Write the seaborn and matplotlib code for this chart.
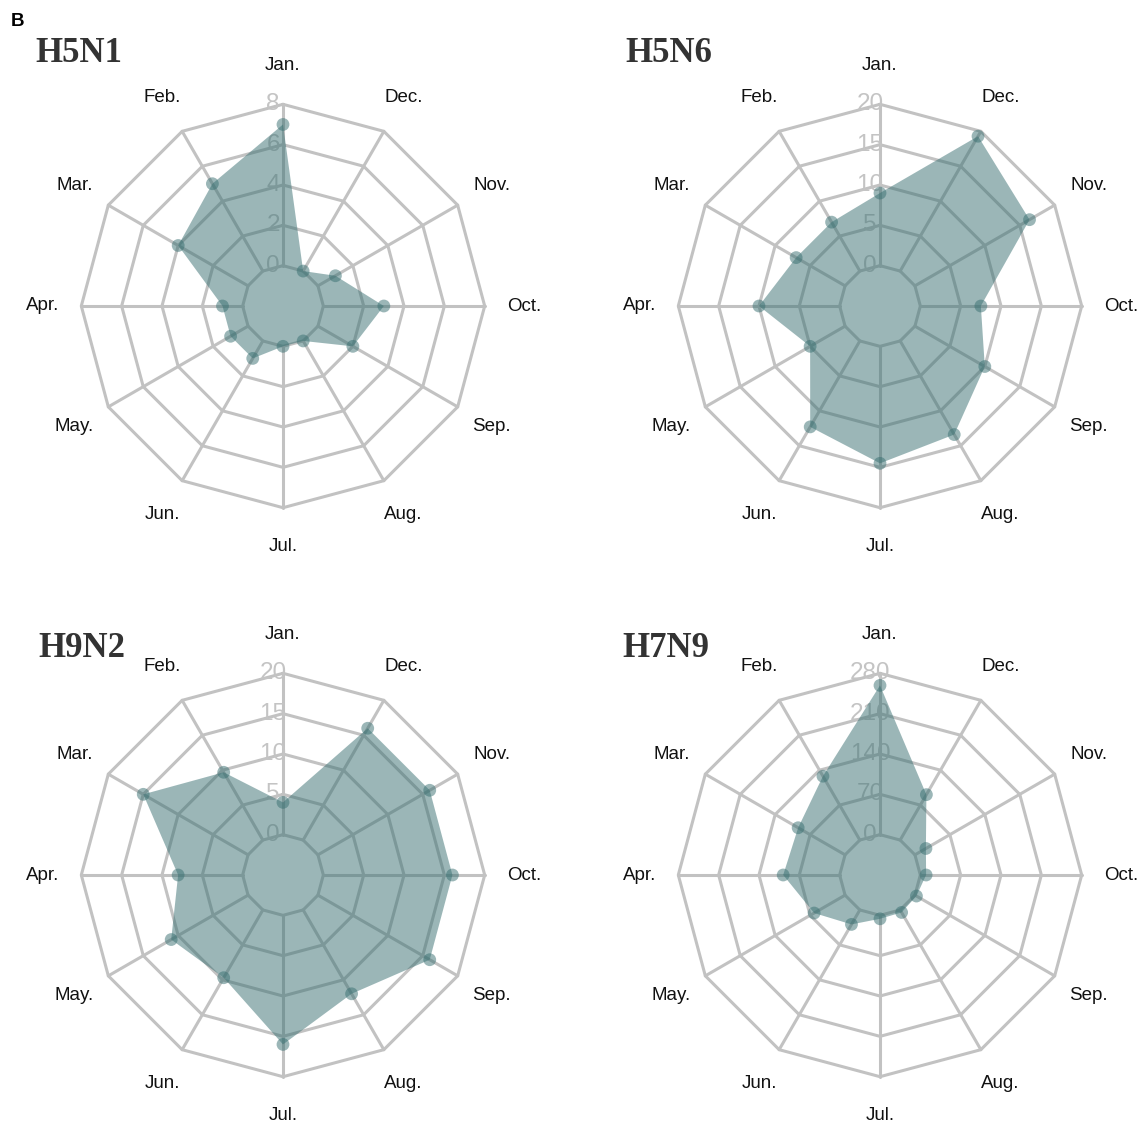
import numpy as np
import pandas as pd
import matplotlib
matplotlib.use("Agg")
import matplotlib.pyplot as plt
import seaborn as sns
from matplotlib.transforms import offset_copy

# ---------------- data ----------------
months = ["Jan.", "Feb.", "Mar.", "Apr.", "May.", "Jun.",
          "Jul.", "Aug.", "Sep.", "Oct.", "Nov.", "Dec."]

h5n1 = [7, 5, 4, 1, 1, 1, 0, 0, 2, 3, 1, 0]
h5n6 = [9, 7, 7, 10, 5, 12.3, 14.5, 13.4, 10, 7.5, 16.4, 19.3]
h9n2 = [4, 9.7, 15, 8, 11, 9.7, 16, 12, 16, 16, 16, 16]
h7n9 = [259, 128, 94, 98, 62, 29, 6, 5, 3, 10, 22, 91]

ticks_h5n1 = [0, 2, 4, 6, 8]
ticks_h5n6 = [0, 5, 10, 15, 20]
ticks_h9n2 = [0, 5, 10, 15, 20]
ticks_h7n9 = [0, 70, 140, 210, 280]

titles = ["H5N1", "H5N6", "H9N2", "H7N9"]
series = [h5n1, h5n6, h9n2, h7n9]
tick_sets = [ticks_h5n1, ticks_h5n6, ticks_h9n2, ticks_h7n9]

# ---------------- style ----------------
sns.set_theme(style="white")
plt.rcParams["font.family"] = ["Liberation Sans", "DejaVu Sans"]

W, H = 1143, 1126
fig = plt.figure(figsize=(W / 100, H / 100), dpi=100)
fig.patch.set_facecolor("white")

main_col = "#386F71"
grid_col = "#c2c2c2"
tick_col = "#c4c4c4"

R = 201.7  # outer radius in px
centers = [(283, 306), (880, 306), (283, 875), (880, 875)]
title_pos = [(35, 62), (625, 62), (38, 657), (622, 657)]

theta = np.arange(12) * 2 * np.pi / 12
theta_closed = np.append(theta, theta[0])

for (cx, cy), (tx, ty), title, vals, ticks in zip(centers, title_pos, titles, series, tick_sets):
    rect = [(cx - R) / W, (H - cy - R) / H, 2 * R / W, 2 * R / H]
    ax = fig.add_axes(rect, projection="polar")
    ax.set_theta_zero_location("N")
    ax.set_theta_direction(1)
    step = ticks[1] - ticks[0]
    ax.set_ylim(-step, ticks[-1])
    ax.grid(False)
    ax.set_xticks([])
    ax.set_yticks([])
    ax.spines["polar"].set_visible(False)
    ax.patch.set_alpha(0)

    # polygon rings
    for t in ticks:
        ax.plot(theta_closed, [t] * len(theta_closed), color=grid_col, lw=2.2,
                zorder=1, clip_on=False)
    # spokes
    for th in theta:
        ax.plot([th, th], [ticks[0], ticks[-1]], color=grid_col, lw=2.2,
                zorder=1, clip_on=False)

    # radial tick labels (under the fill)
    tr = offset_copy(ax.transData, fig=fig, x=-10, y=0, units="dots")
    for t in ticks:
        ax.text(0, t, str(t), transform=tr, ha="center", va="center",
                fontsize=17.5, color=tick_col, zorder=1.5, clip_on=False)

    # data polygon
    vals_closed = np.append(vals, vals[0])
    ax.fill(theta_closed, vals_closed, color=main_col, alpha=0.5, lw=0,
            zorder=2, clip_on=False)
    df = pd.DataFrame({"theta": theta, "value": vals})
    sns.scatterplot(data=df, x="theta", y="value", ax=ax, s=85, color=main_col,
                    alpha=0.5, edgecolor="none", zorder=3, clip_on=False)
    ax.set_xlabel("")
    ax.set_ylabel("")

    # month labels
    for th, m in zip(theta, months):
        ax.text(th, ticks[-1] + 0.97 * step, m, ha="center", va="center",
                fontsize=13.5, color="#111111", clip_on=False)

    fig.text(tx / W, 1 - ty / H, title, ha="left", va="baseline",
             fontsize=25, fontweight="bold", color="#333333",
             family=["Liberation Serif", "DejaVu Serif"])

fig.text(11 / W, 1 - 26 / H, "B", ha="left", va="baseline", fontsize=13.5,
         fontweight="bold", color="black")

fig.savefig("out.png", dpi=100, facecolor="white")
